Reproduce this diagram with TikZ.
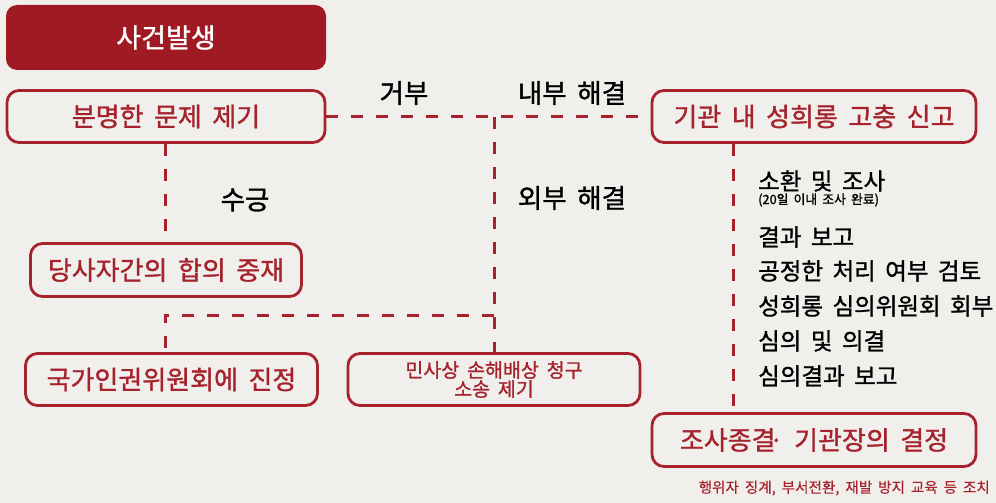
\documentclass[tikz,border=0pt]{standalone}
\usepackage{fontspec}
\setmainfont{Noto Sans CJK KR}[WordSpace=1.8]
\newfontfamily\krmed{Noto Sans CJK KR}[FakeBold=1.2, WordSpace=1.8]
\newfontfamily\plainkr{Noto Sans CJK KR}[FakeBold=0.3, WordSpace=1.8]
\usetikzlibrary{positioning}
\definecolor{bgc}{HTML}{F1EFEB}
\definecolor{redc}{HTML}{A6232E}
\definecolor{darkred}{HTML}{A01A24}
\tikzset{
  box/.style={draw=redc, line width=2.8pt, rounded corners=12pt, text=redc, font=\krmed\fontsize{26}{28}\selectfont, inner sep=0pt},
  filledbox/.style={fill=darkred, rounded corners=11pt, text=white, font=\krmed\fontsize{27}{28}\selectfont, inner sep=0pt},
  conn/.style={draw=redc, line width=3pt, dash pattern=on 12pt off 13pt},
  lbl/.style={text=black, font=\krmed\fontsize{26.5}{28}\selectfont, inner sep=0pt},
  item/.style={text=black, anchor=west, font=\krmed\fontsize{23.5}{25}\selectfont, inner sep=0pt},
}
\begin{document}
\begin{tikzpicture}[x=1pt,y=-1pt]
\fill[bgc] (0,0) rectangle (996,503);
\useasboundingbox (0,0) rectangle (996,503);

\node[filledbox, minimum width=320pt, minimum height=65pt] (ev) at (166,37.5) {사건발생};
\node[box, minimum width=318pt, minimum height=52pt] (issue) at (166,116.5) {분명한 문제 제기};
\node[box, minimum width=324pt, minimum height=52pt] (inst) at (814,116.5) {기관 내 성희롱 고충 신고};
\node[box, minimum width=271pt, minimum height=53pt] (med) at (166,270) {당사자간의 합의 중재};
\node[box, minimum width=292pt, minimum height=52pt] (nhrc) at (171.5,379.5) {국가인권위원회에 진정};
\node[box, minimum width=292pt, minimum height=52pt, font=\krmed\fontsize{19.5}{20}\selectfont, align=center] (civil) at (494,379.5) {민사상 손해배상 청구\\[-1pt]소송 제기};
\node[box, minimum width=324pt, minimum height=53pt] (end) at (814,440) {조사종결\kern-0.25em·\ 기관장의 결정};

% connectors
\coordinate (j1) at (494,116.5);
\coordinate (j2) at (494,315);
\coordinate (j3) at (165,315);
\draw[conn] (issue.east) -- (inst.west);
\draw[conn] (j1) -- (civil.north);
\draw[conn] (issue.south -| j3) -- (med.north -| j3);
\draw[conn] (j2) -- (j3) -- (nhrc.north -| j3);
\draw[conn] (inst.south -| 733,0) -- (end.north -| 733,0);

% labels
\node[lbl] (l1) at (404,93) {거부};
\node[lbl] (l2) at (572,93) {내부 해결};
\node[lbl] (l3) at (245,200) {수긍};
\node[lbl] (l4) at (572,198) {외부 해결};

% list
\node[item] (s1) at (758,181) {소환 및 조사};
\node[item, font=\krmed\fontsize{12.8}{14}\selectfont] (s1b) at (758,200) {(20일 이내 조사 완료)};
\node[item] (s2) at (758,237) {결과 보고};
\node[item] (s3) at (758,271) {공정한 처리 여부 검토};
\node[item] (s4) at (758,306) {성희롱 심의위원회 회부};
\node[item] (s5) at (758,341) {심의 및 의결};
\node[item] (s6) at (758,376) {심의결과 보고};

\node[anchor=east, text=redc, font=\plainkr\fontsize{14.6}{16}\selectfont, inner sep=0pt] (foot) at (990,488) {행위자 징계, 부서전환, 재발 방지 교육 등 조치};
\end{tikzpicture}
\end{document}
